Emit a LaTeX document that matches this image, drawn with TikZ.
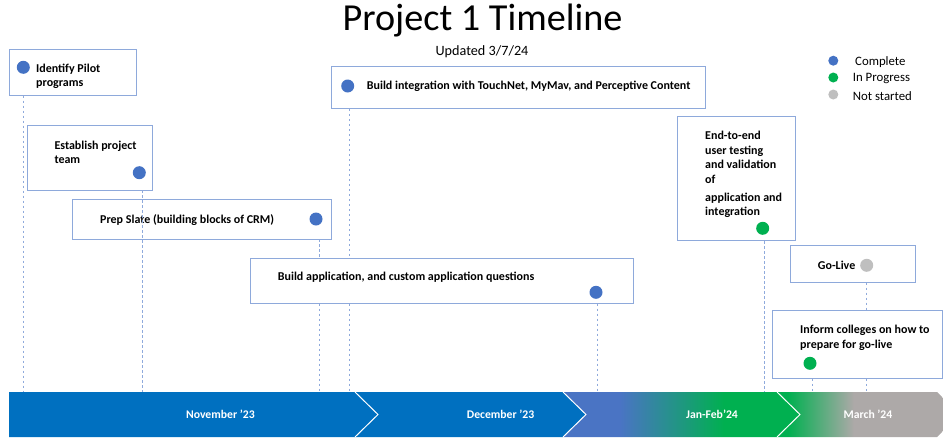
\documentclass[tikz,border=0pt]{standalone}
\usepackage{fontspec}
\setmainfont{Carlito}
\definecolor{barblue}{HTML}{0070C0}
\definecolor{periw}{HTML}{4A74C4}
\definecolor{okgreen}{HTML}{00B050}
\definecolor{stone}{HTML}{ADA9A8}
\definecolor{donedot}{HTML}{4472C4}
\definecolor{tododot}{HTML}{BFBFBF}
\definecolor{frame}{HTML}{8EA9DB}
\definecolor{guideblue}{HTML}{8FAADC}
% horizontal blends for the last two chevrons (path box = 25bp..75bp)
\pgfdeclarehorizontalshading{blueToGreen}{100bp}{color(0bp)=(periw); color(37bp)=(periw); color(59bp)=(okgreen); color(100bp)=(okgreen)}
\pgfdeclarehorizontalshading{greenToStone}{100bp}{color(0bp)=(okgreen); color(28bp)=(okgreen); color(46bp)=(stone); color(100bp)=(stone)}
\begin{document}
\begin{tikzpicture}[x=1pt,y=-1pt,
  task/.style={draw=frame, line width=0.8pt, inner sep=0pt, fill=white},
  tasktext/.style={anchor=west, inner sep=0pt, align=left,
    font=\fontsize{12}{14.6}\selectfont\bfseries},
  dot/.style={circle, inner sep=0pt, minimum size=13pt, fill=#1},
  keydot/.style={circle, inner sep=0pt, minimum size=10pt, fill=#1},
  keytext/.style={anchor=west, inner sep=0pt, font=\fontsize{12.8}{15}\selectfont},
  guide/.style={draw=guideblue, line width=0.7pt, dash pattern=on 2.5pt off 2.5pt},
  barlabel/.style={text=white, inner sep=0pt, font=\fontsize{11.7}{13}\selectfont\bfseries},
  seam/.style={draw=white, line width=1pt}]
\useasboundingbox (0,0) rectangle (943,437);

% title
\node[font=\fontsize{38.2}{41}\selectfont] (title) at (482.5,21) {Project 1 Timeline};
\node[font=\fontsize{14.2}{16}\selectfont] (updated) at (482,51.7) {Updated 3/7/24};

% legend
\node[keydot=donedot] (k1) at (833.3,60.7) {};
\node[keydot=okgreen] (k2) at (833.3,77.5) {};
\node[keydot=tododot] (k3) at (833.3,94.5) {};
\node[keytext] (kt1) at (855,61.7) {Complete};
\node[keytext] (kt2) at (852.7,78.5) {In Progress};
\node[keytext] (kt3) at (852.7,95.7) {Not started};

% timeline bar
\coordinate (bartop) at (0,392);
\fill[barblue] (9,392) -- (355,392) -- (378,414.5) -- (355,437) -- (9,437) -- cycle;
\fill[barblue] (355,392) -- (563,392) -- (586,414.5) -- (563,437) -- (355,437) -- (378,414.5) -- cycle;
\shade[shading=blueToGreen] (563,392) -- (777,392) -- (800,414.5) -- (777,437) -- (563,437) -- (586,414.5) -- cycle;
\begin{scope}
  \clip (0,0) rectangle (943,437);
  \shade[shading=greenToStone] (777,392) -- (937,392) -- (960,414.5) -- (937,437) -- (777,437) -- (800,414.5) -- cycle;
\end{scope}
\draw[seam] (355,392) -- (378,414.5) -- (355,437);
\draw[seam] (563,392) -- (586,414.5) -- (563,437);
\draw[seam] (777,392) -- (800,414.5) -- (777,437);
\node[barlabel] (m1) at (220.4,414) {November ’23};
\node[barlabel] (m2) at (500.6,414) {December ’23};
\node[barlabel] (m3) at (712,414) {Jan-Feb’24};
\node[barlabel] (m4) at (868,414) {March ’24};

% task boxes
\node[task, minimum width=127pt, minimum height=46pt] (b1) at (72.8,72.3) {};
\node[task, minimum width=125pt, minimum height=64.7pt] (b2) at (89.8,157.7) {};
\node[task, minimum width=259.4pt, minimum height=39.7pt] (b3) at (202,219.2) {};
\node[task, minimum width=374pt, minimum height=42pt] (b4) at (518.7,87.5) {};
\node[task, minimum width=383pt, minimum height=45pt] (b5) at (441.5,280.8) {};
\node[task, minimum width=117.7pt, minimum height=124pt] (b6) at (736.2,178.7) {};
\node[task, minimum width=125pt, minimum height=36.6pt] (b7) at (853.2,264) {};
\node[task, minimum width=169.4pt, minimum height=68.3pt] (b8) at (857.2,344.2) {};

% task texts
\node[tasktext] (t1) at (36,76.3) {Identify Pilot\\programs};
\node[tasktext] (t2) at (54.3,152.3) {Establish project\\team};
\node[tasktext] (t3) at (100,220) {Prep Slate (building blocks of CRM)};
\node[tasktext] (t4) at (366.7,86) {Build integration with TouchNet, MyMav, and Perceptive Content};
\node[tasktext] (t5) at (277.7,277.3) {Build application, and custom application questions};
\node[tasktext] (t6) at (705,174.5) {End-to-end\\user testing\\and validation\\of\\[3pt]application and\\integration};
\node[tasktext] (t7) at (817.7,265.3) {Go-Live};
\node[tasktext] (t8) at (800,337.5) {Inform colleges on how to\\prepare for go-live};

% status dots
\node[dot=donedot] (d1) at (23.3,67.3) {};
\node[dot=donedot] (d2) at (139.3,172.7) {};
\node[dot=donedot] (d3) at (316,219) {};
\node[dot=donedot] (d4) at (347.7,86) {};
\node[dot=donedot] (d5) at (596,292.3) {};
\node[dot=okgreen] (d6) at (762.7,228.3) {};
\node[dot=tododot] (d7) at (866.7,265.3) {};
\node[dot=okgreen] (d8) at (810,363.3) {};

% drop lines to the bar
\draw[guide] (d1 |- b1.south) -- (d1 |- bartop);
\draw[guide] ([xshift=3.5pt]d2.center |- b2.south) -- ([xshift=3.5pt]d2.center |- bartop);
\draw[guide] ([xshift=3.3pt]d3.center |- b3.south) -- ([xshift=3.3pt]d3.center |- b5.north);
\draw[guide] ([xshift=3.3pt]d3.center |- b5.south) -- ([xshift=3.3pt]d3.center |- bartop);
\draw[guide] ([xshift=1.3pt]d4.center |- b4.south) -- ([xshift=1.3pt]d4.center |- b5.north);
\draw[guide] ([xshift=1.3pt]d4.center |- b5.south) -- ([xshift=1.3pt]d4.center |- bartop);
\draw[guide] ([xshift=1.5pt]d5.center |- b5.south) -- ([xshift=1.5pt]d5.center |- bartop);
\draw[guide] ([xshift=1.3pt]d6.center |- b6.south) -- ([xshift=1.3pt]d6.center |- bartop);
\draw[guide] (d7 |- b7.south) -- (d7 |- b8.north);
\draw[guide] (d7 |- b8.south) -- (d7 |- bartop);
\draw[guide] ([xshift=2pt]d8.center |- b8.south) -- ([xshift=2pt]d8.center |- bartop);
\end{tikzpicture}
\end{document}
